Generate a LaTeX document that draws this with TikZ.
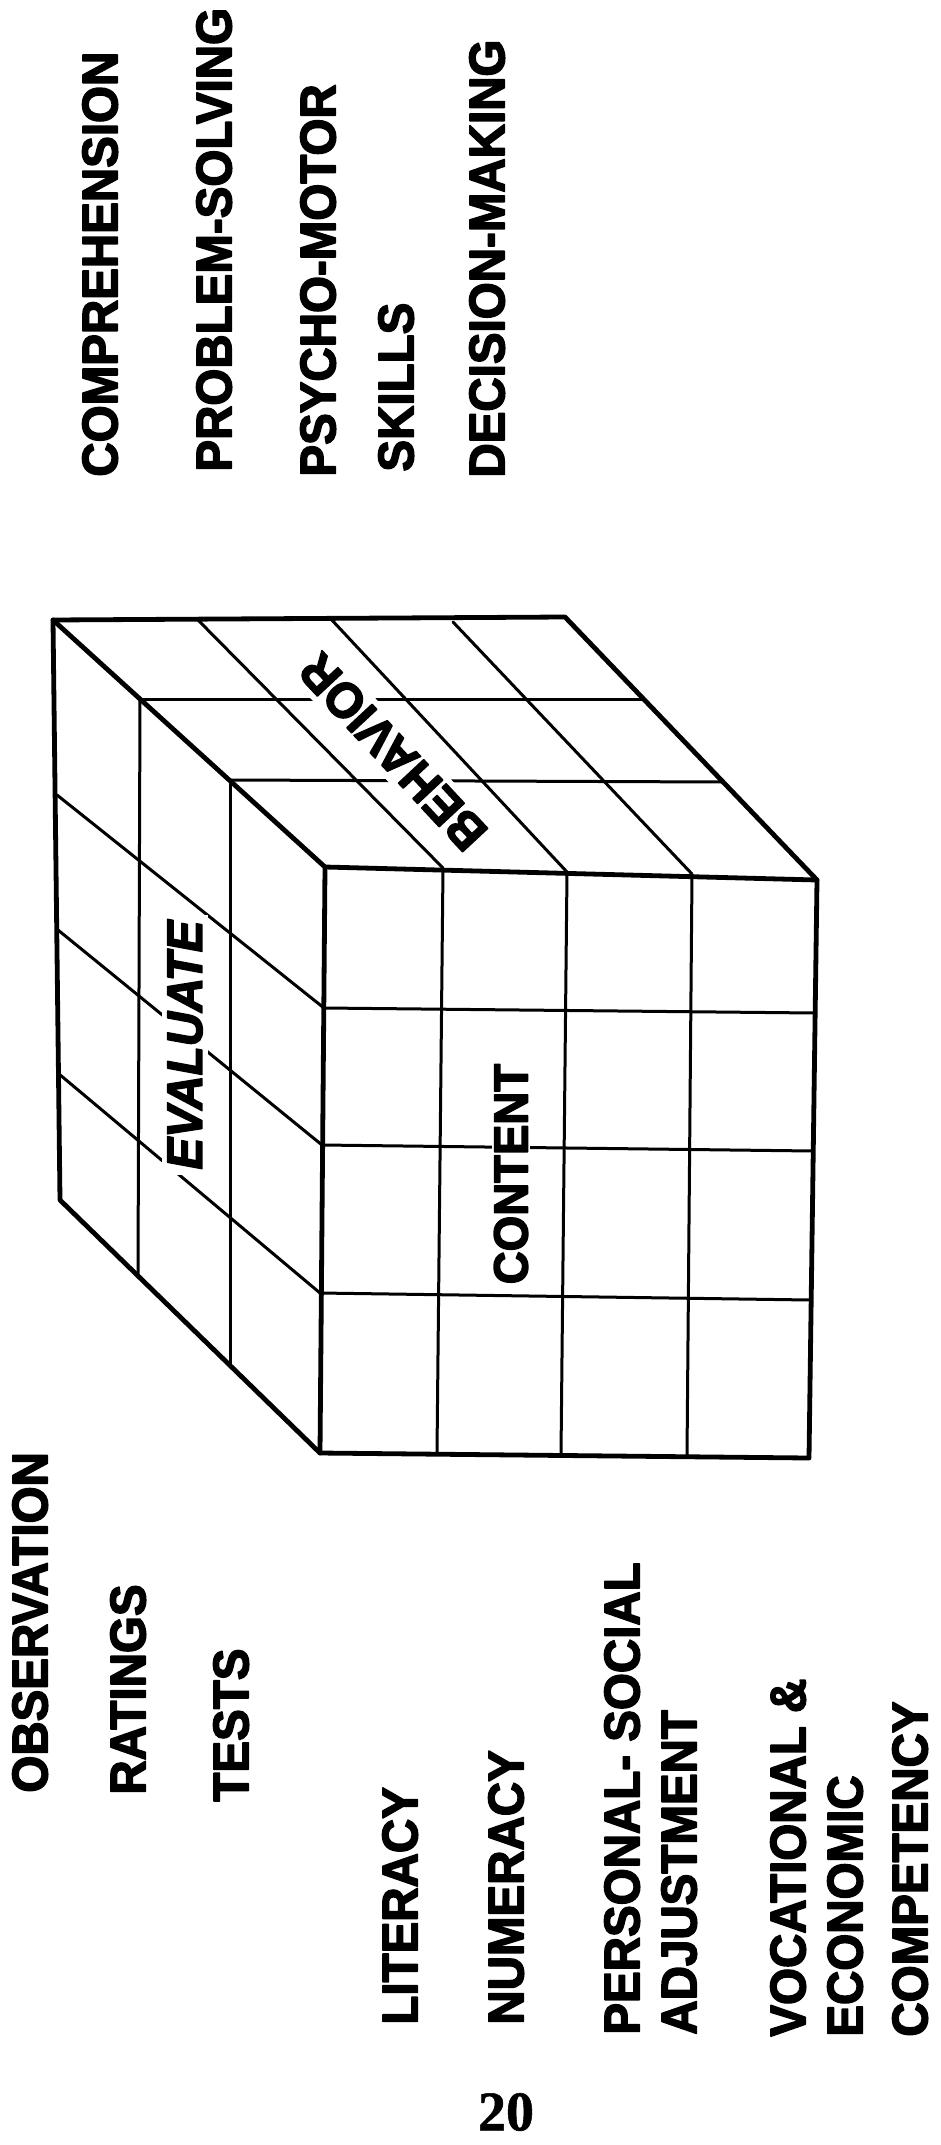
\documentclass[tikz,border=0pt]{standalone}
\usepackage{fontspec}
\newfontfamily\cubefont{Liberation Sans Bold}[FakeStretch=0.95, FakeBold=3,
  ItalicFont={Liberation Sans Bold Italic}]
\newfontfamily\pagefont{Liberation Serif Bold}[FakeBold=1]
\usetikzlibrary{calc}

\begin{document}
\begin{tikzpicture}[
  x=0.5pt, y=-0.5pt,
  line join=round, line cap=round,
  edge/.style={line width=2.4pt},
  grid/.style={line width=1.5pt},
  axislabel/.style={rotate=90, anchor=north west, inner sep=0pt, align=left,
    font=\cubefont\fontsize{25}{28.5}\selectfont},
  facelabel/.style={fill=white, inner sep=3pt,
    font=\cubefont\fontsize{25}{28.5}\selectfont},
]
\useasboundingbox (0,0) rectangle (941,2145);

% cube corners
\coordinate (A) at (53,620);
\coordinate (B) at (565,617);
\coordinate (C) at (817,880);
\coordinate (D) at (325,867);
\coordinate (E) at (60,1200);
\coordinate (F) at (320,1453);
\coordinate (G) at (809,1458);

% top face
\draw[grid] (197,619) -- (443,868);
\draw[grid] (330,618) -- (567,872);
\draw[grid] (453,622) -- (692,874);
\draw[grid] (140,699) -- (642,699);
\draw[grid] (230,780) -- (723,782);

% left face
\draw[grid] (140,699) -- (138,1277);
\draw[grid] (230,780) -- (230,1365);
\draw[grid] (57,795) -- (324,1008);
\draw[grid] (58,930) -- (322,1145);
\draw[grid] (59,1074) -- (320,1293);

% front face
\draw[grid] (443,868) -- (437,1452);
\draw[grid] (567,872) -- (561,1454);
\draw[grid] (692,874) -- (687,1456);
\draw[grid] (324,1008) -- (815,1013);
\draw[grid] (322,1145) -- (813,1151);
\draw[grid] (320,1293) -- (810,1300);

% face names
\node[facelabel, rotate=133] (behavior) at (393,752) {BEHAVIOR};
\node[facelabel, rotate=90, font=\cubefont\itshape\fontsize{25}{28.5}\selectfont] (evaluate) at (185,1045) {EVALUATE};
\node[facelabel, rotate=90, inner sep=1pt, font=\cubefont\fontsize{24}{28}\selectfont] (content) at (511,1174) {CONTENT};

% outline
\draw[edge] (A) -- (B) -- (C) -- (G) -- (F) -- (E) -- cycle;
\draw[edge] (A) -- (D) -- (C);
\draw[edge] (D) -- (F);

% behaviour list
\node[axislabel] (compr) at (82,477) {COMPREHENSION};
\node[axislabel] (probl) at (196,472) {PROBLEM-SOLVING};
\node[axislabel] (psych) at (300,477) {PSYCHO-MOTOR};
\node[axislabel] (skill) at (378,472) {SKILLS};
\node[axislabel] (decis) at (469,478) {DECISION-MAKING};

% evaluation list
\node[axislabel] (obser) at (12,1793) {OBSERVATION};
\node[axislabel] (ratin) at (110,1795) {RATINGS};
\node[axislabel] (tests) at (213,1802) {TESTS};

% content list
\node[axislabel] (liter) at (382,2025) {LITERACY};
\node[axislabel] (numer) at (488,2025) {NUMERACY};
\node[axislabel] (perso) at (604,2035) {PERSONAL- SOCIAL\\ADJUSTMENT};
\node[axislabel] (vocat) at (770,2037) {VOCATIONAL \&\\ECONOMIC\\[4pt]COMPETENCY};

\node[font=\pagefont\fontsize{28}{30}\selectfont, inner sep=0pt] (pageno) at (506,2112) {20};
\end{tikzpicture}
\end{document}
